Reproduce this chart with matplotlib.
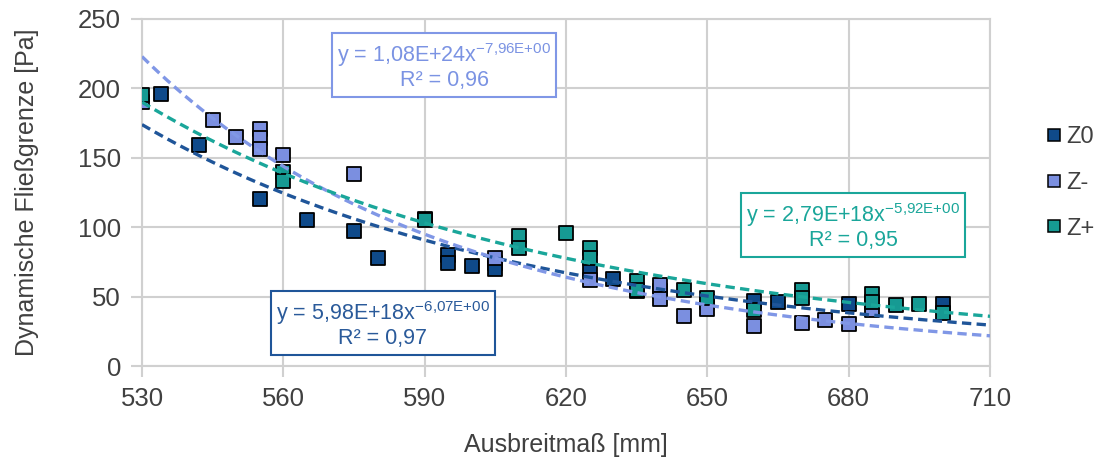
import numpy as np
import matplotlib
matplotlib.use("Agg")
import matplotlib.pyplot as plt
from matplotlib.lines import Line2D

plt.rcParams['font.family'] = ['Liberation Sans', 'DejaVu Sans']
plt.rcParams['mathtext.fontset'] = 'custom'
plt.rcParams['mathtext.rm'] = 'Liberation Sans'
plt.rcParams['mathtext.default'] = 'regular'

z0_x = [534, 542, 555, 565, 575, 580, 590, 595, 595, 600, 605, 605, 625, 630, 640, 650, 660, 665, 680, 700]
z0_y = [196, 159, 120, 105, 97, 78, 106, 80, 74, 72, 74, 70, 69, 63, 54, 46, 47, 46, 45, 45]

zm_x = [530, 545, 550, 555, 555, 555, 560, 575, 605, 625, 635, 640, 640, 645, 650, 660, 670, 675, 680, 685]
zm_y = [190, 177, 165, 171, 164, 156, 152, 138, 78, 62, 54, 58, 48, 36, 41, 29, 31, 33, 30, 40]

zp_x = [530, 560, 560, 590, 610, 610, 620, 625, 625, 635, 635, 645, 650, 660, 670, 670, 685, 685, 690, 695, 700]
zp_y = [195, 140, 133, 105, 94, 85, 96, 85, 78, 61, 55, 55, 49, 40, 55, 49, 52, 46, 44, 45, 38]

# Trendlinien (Potenz) laut Beschriftung; Z+ wird aus den Punkten gefittet
trend_a = [5.98e18, 1.08e24, None]
trend_b = [-6.07, -7.96, None]

labels = ["Z0", "Z-", "Z+"]
colors = ["#0f4a8a", "#7b8fe0", "#169a93"]
line_colors = ["#1f5599", "#8097e6", "#1aa69a"]
text_colors = ["#2a5a9a", "#7b93e3", "#1aa69a"]
box_text = ["y = 5,98E+18x$^{-6{,}07E{+}00}$\nR² = 0,97",
            "y = 1,08E+24x$^{-7{,}96E{+}00}$\nR² = 0,96",
            "y = 2,79E+18x$^{-5{,}92E{+}00}$\nR² = 0,95"]
box_pos = [(383, 324), (444, 66), (853, 226)]  # pixel centres

fig = plt.figure(figsize=(10.98, 4.59), dpi=100)
ax = fig.add_axes([142/1098, 1-366/459, 848/1098, 347/459])

series = [(z0_x, z0_y), (zm_x, zm_y), (zp_x, zp_y)]
for (x, y), c in zip(series, colors):
    ax.scatter(x, y, s=95, marker="s", color=c, edgecolors="black", linewidths=1.3, zorder=3)

xx = np.linspace(530, 710, 200)
for i, ((x, y), lc) in enumerate(zip(series, line_colors)):
    a, b = trend_a[i], trend_b[i]
    if a is None:
        b, la = np.polyfit(np.log(x), np.log(y), 1)
        a = np.exp(la)
    ax.plot(xx, a * xx**b, color=lc, lw=2.4, dashes=(2.8, 1.6), zorder=4)

for txt, (px, py), tc, lc in zip(box_text, box_pos, text_colors, line_colors):
    fig.text(px/1098, 1-py/459, txt, color=tc,
             fontsize=15.5, ha="center", va="center", multialignment="center",
             linespacing=1.1,
             bbox=dict(boxstyle="square,pad=0.25", fc="white", ec=lc, lw=1.5), zorder=5)

ax.set_xlim(530, 710)
ax.set_ylim(0, 250)
ax.set_xticks(np.arange(530, 711, 30))
ax.set_yticks(np.arange(0, 251, 50))
ax.grid(True, color="#d0d0d0", lw=1.5)
ax.set_axisbelow(True)
for s in ax.spines.values():
    s.set_color("#d0d0d0")
    s.set_linewidth(1.5)
ax.tick_params(colors="#d0d0d0", length=8, width=1.5, labelcolor="#404040", labelsize=18.5, pad=7)

ax.set_xlabel("Ausbreitmaß [mm]", fontsize=18, color="#404040", labelpad=16)
ax.set_ylabel("Dynamische Fließgrenze [Pa]", fontsize=18, color="#404040", labelpad=28)

handles = [Line2D([], [], ls="", marker="s", ms=8, mfc=c, mec="black", mew=1.1) for c in colors]
fig.legend(handles, labels, loc="center left", bbox_to_anchor=(1043/1098, 1-183/459),
           frameon=False, fontsize=17, labelspacing=1.0, handletextpad=0.1,
           handlelength=0.9, borderpad=0, borderaxespad=0, labelcolor="#404040")

fig.savefig("out.png", dpi=100)
